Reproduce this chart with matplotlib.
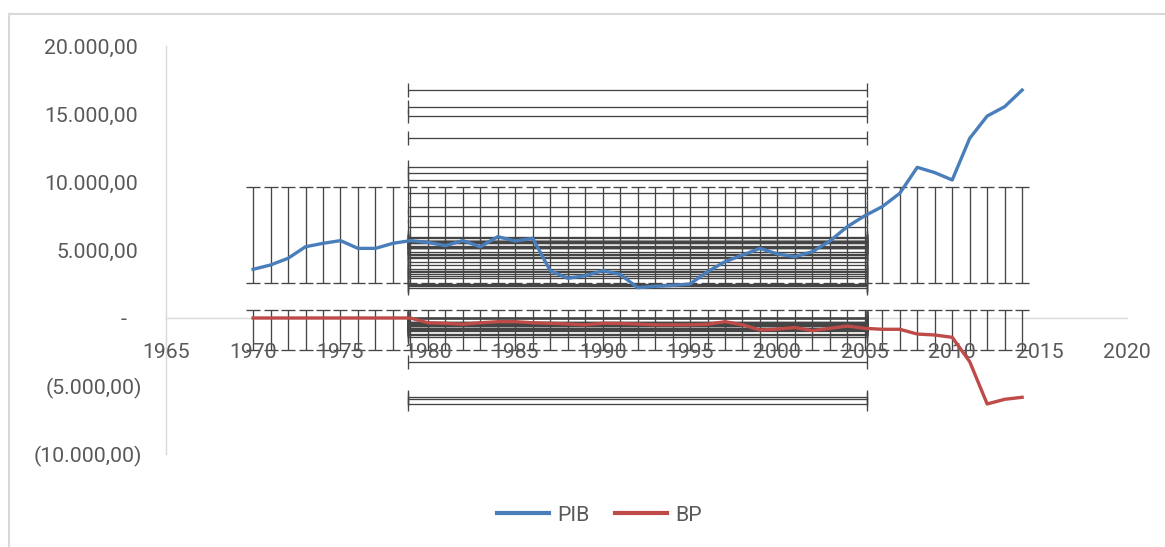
"""PIB vs BP line chart with Excel-style standard deviation error bars."""

import numpy as np
import matplotlib

matplotlib.use("Agg")
import matplotlib.pyplot as plt
from matplotlib.lines import Line2D
from matplotlib.transforms import ScaledTranslation

years = [
    1970, 1971, 1972, 1973, 1974, 1975, 1976, 1977, 1978, 1979,
    1980, 1981, 1982, 1983, 1984, 1985, 1986, 1987, 1988, 1989,
    1990, 1991, 1992, 1993, 1994, 1995, 1996, 1997, 1998, 1999,
    2000, 2001, 2002, 2003, 2004, 2005, 2006, 2007, 2008, 2009,
    2010, 2011, 2012, 2013, 2014,
]
pib = [
    3580, 3900, 4390, 5240, 5490, 5690, 5120, 5120, 5490, 5690,
    5560, 5320, 5690, 5240, 5980, 5660, 5860, 3480, 2920, 3110,
    3480, 3210, 2230, 2330, 2400, 2500, 3410, 4140, 4630, 5120,
    4710, 4510, 4880, 5660, 6720, 7520, 8190, 9170, 11080, 10690,
    10150, 13210, 14850, 15540, 16760,
]
bp = [
    0, 0, 0, 0, 0, 0, 0, 0, 0, 0,
    -350, -390, -460, -350, -270, -270, -350, -390, -440, -500,
    -390, -400, -450, -500, -500, -500, -460, -270, -500, -880,
    -820, -700, -930, -760, -590, -760, -830, -830, -1180, -1250,
    -1420, -3210, -6320, -5980, -5830,
]
series_names = ["PIB", "BP"]

x_ticks = [1965, 1970, 1975, 1980, 1985, 1990, 1995, 2000, 2005, 2010, 2015, 2020]
y_ticks = [-10000, -5000, 0, 5000, 10000, 15000, 20000]

TEXT = "#595959"
AXIS = "#d9d9d9"
BAR = "#454545"
BLUE = "#4a7ebb"
RED = "#be4b48"
FS = 15.3

plt.rcParams["font.family"] = ["Roboto", "DejaVu Sans"]

W, H, DPI = 1165, 547, 100


def fmt_value(v):
    if v == 0:
        return "-"
    s = f"{abs(v):,.2f}".replace(",", "X").replace(".", ",").replace("X", ".")
    return f"({s})" if v < 0 else s


def sd_error_bars(ax, x, y):
    # Excel "standard deviation" bars: centred on the series mean, +/- one sample SD
    x = np.asarray(x, dtype=float)
    y = np.asarray(y, dtype=float)
    ym, ys = y.mean(), y.std(ddof=1)
    xm, xs = x.mean(), x.std(ddof=1)
    kw = dict(color=BAR, linewidth=0.95, zorder=1)
    cap = dict(linestyle="none", color=BAR, markersize=10, markeredgewidth=0.95, zorder=1)
    ax.vlines(x, ym - ys, ym + ys, **kw)
    ax.plot(x, np.full_like(x, ym + ys), marker="_", **cap)
    ax.plot(x, np.full_like(x, ym - ys), marker="_", **cap)
    ax.hlines(y, xm - xs, xm + xs, **kw)
    ax.plot(np.full_like(y, xm - xs), y, marker="|", **cap)
    ax.plot(np.full_like(y, xm + xs), y, marker="|", **cap)


fig = plt.figure(figsize=(W / DPI, H / DPI), dpi=DPI)
ax = fig.add_axes([165.7 / W, 1 - 454 / H, (1127 - 165.7) / W, (454 - 46) / H])

sd_error_bars(ax, years, pib)
sd_error_bars(ax, years, bp)

ax.plot(years, pib, color=BLUE, linewidth=2.4, solid_joinstyle="round", zorder=3, label=series_names[0])
ax.plot(years, bp, color=RED, linewidth=2.4, solid_joinstyle="round", zorder=3, label=series_names[1])

ax.set_xlim(1965, 2020)
ax.set_ylim(-10000, 20000)
ax.set_xticks(x_ticks)
ax.set_yticks(y_ticks, [fmt_value(v) for v in y_ticks])

for side in ("top", "right"):
    ax.spines[side].set_visible(False)
ax.spines["bottom"].set_position(("data", 0))
for side in ("left", "bottom"):
    ax.spines[side].set_color(AXIS)
    ax.spines[side].set_linewidth(1.0)
    ax.spines[side].set_zorder(0.5)

ax.tick_params(axis="both", length=0, labelsize=FS, labelcolor=TEXT)
ax.tick_params(axis="x", pad=18)
ax.tick_params(axis="y", pad=17)

# accounting-style alignment: positives leave room for ")", zero dash sits further left
for tick, v in zip(ax.yaxis.get_major_ticks(), y_ticks):
    shift = 0 if v < 0 else (-16 if v == 0 else -4)
    if shift:
        lab = tick.label1
        lab.set_transform(lab.get_transform() + ScaledTranslation(shift / DPI, 0, fig.dpi_scale_trans))

handles = [Line2D([], [], color=BLUE, linewidth=3), Line2D([], [], color=RED, linewidth=3)]
fig.legend(
    handles, series_names, loc="center", bbox_to_anchor=(0.5146, 0.0585), ncol=2,
    frameon=False, fontsize=FS, labelcolor=TEXT, handlelength=2.45,
    handletextpad=0.4, columnspacing=1.2,
)

# chart area border (only top and left edges are inside the picture)
fig.add_artist(Line2D([9 / W, 1], [1 - 14 / H, 1 - 14 / H], transform=fig.transFigure, color=AXIS, lw=1.5))
fig.add_artist(Line2D([9 / W, 9 / W], [0, 1 - 14 / H], transform=fig.transFigure, color=AXIS, lw=1.5))

fig.savefig("out.png", dpi=DPI)
